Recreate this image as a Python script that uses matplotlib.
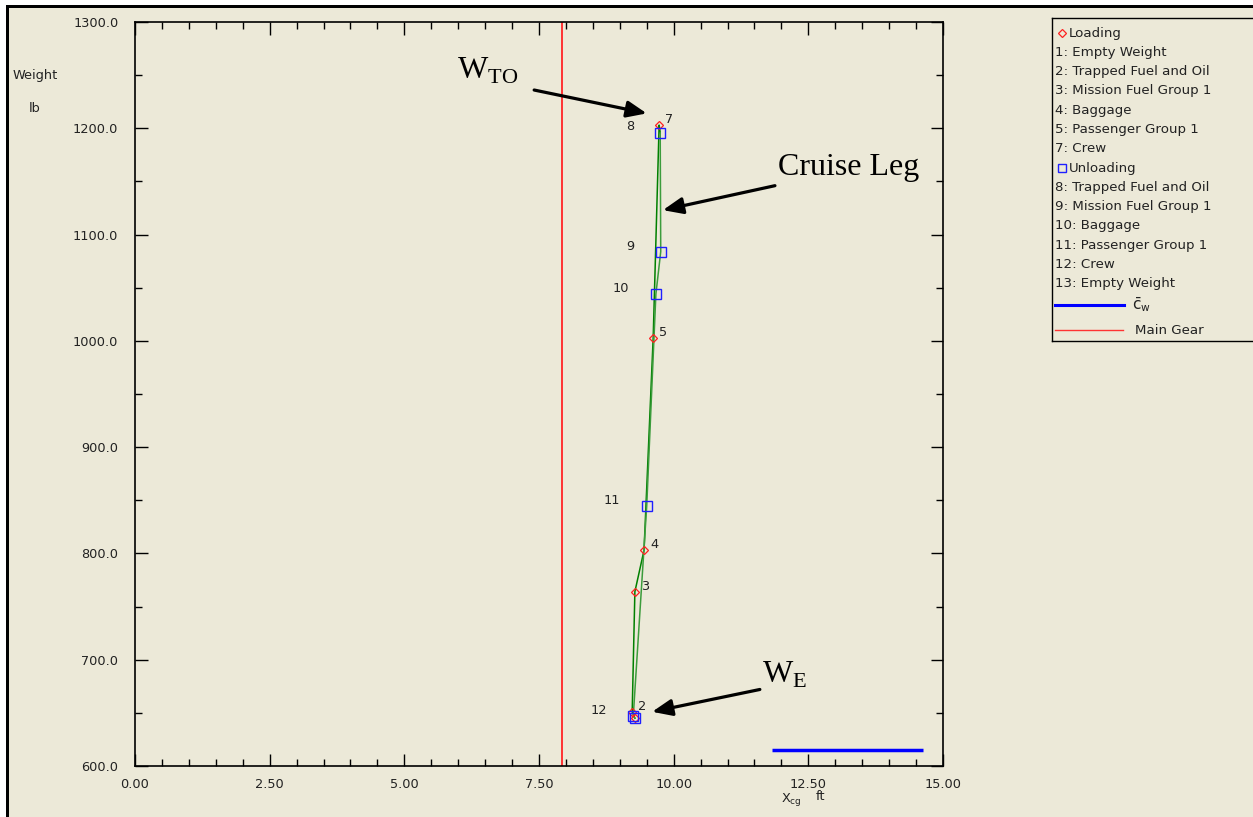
import matplotlib
matplotlib.use('Agg')
import matplotlib.pyplot as plt
from matplotlib.ticker import MultipleLocator, FormatStrFormatter
from matplotlib.patches import Rectangle

# loading / unloading cg points (Xcg ft, weight lb)
load_x = [9.28, 9.23, 9.28, 9.45, 9.62, 9.73]
load_w = [645, 651, 764, 803, 1003, 1203]
load_lbl = ['', '2', '3', '4', '5', '7']

unload_x = [9.75, 9.76, 9.67, 9.50, 9.25, 9.28]
unload_w = [1196, 1084, 1044, 845, 647, 645]
unload_lbl = ['8', '9', '10', '11', '12', '']

main_gear_x = 7.93
cw_x = [11.83, 14.63]
cw_w = [615, 615]

legend_items = ['1: Empty Weight', '2: Trapped Fuel and Oil', '3: Mission Fuel Group 1',
                '4: Baggage', '5: Passenger Group 1', '7: Crew']
legend_items2 = ['8: Trapped Fuel and Oil', '9: Mission Fuel Group 1', '10: Baggage',
                 '11: Passenger Group 1', '12: Crew', '13: Empty Weight']

bg = '#ECE9D8'
txt = '#222222'
W, H = 1253, 817

fig = plt.figure(figsize=(12.53, 8.17), dpi=100, facecolor=bg)
ax = fig.add_axes([135 / W, 1 - 766 / H, 808 / W, 744 / H], facecolor=bg)

ax.axvline(main_gear_x, color='#ff3333', lw=1.4)
ax.plot(cw_x, cw_w, color='#0000ff', lw=2.5, solid_capstyle='butt')

# paths
ax.plot(load_x + [unload_x[0]], load_w + [unload_w[0]], color='#008000', lw=1.1)
ax.plot(unload_x, unload_w, color='#3c9c3c', lw=1.1)

ax.plot(load_x, load_w, ls='none', marker='D', ms=4.5, mfc='none', mec='#ff2020', mew=0.9)
ax.plot(unload_x, unload_w, ls='none', marker='s', ms=6.5, mfc='none', mec='#1f1fff', mew=1.0)

for x, w, s in zip(load_x, load_w, load_lbl):
    if s:
        ax.annotate(s, (x, w), xytext=(4.5, 4), textcoords='offset points',
                    fontsize=9.3, color=txt, ha='left', va='center')
for x, w, s in zip(unload_x, unload_w, unload_lbl):
    if s:
        ax.annotate(s, (x, w), xytext=(-19, 4), textcoords='offset points',
                    fontsize=9.3, color=txt, ha='right', va='center')

# callouts
serif = 'Liberation Serif'
arrow = dict(arrowstyle='-|>,head_length=1.2,head_width=0.5', color='black', lw=2.3,
             shrinkA=0, shrinkB=0)
ax.annotate('', xy=(9.50, 1214), xytext=(7.41, 1236), arrowprops=arrow)
ax.annotate('', xy=(9.80, 1123), xytext=(11.88, 1146), arrowprops=arrow)
ax.annotate('', xy=(9.60, 651), xytext=(11.60, 672), arrowprops=arrow)
ax.text(6.55, 1254, r'W$_\mathregular{TO}$', family=serif, fontsize=23, ha='center', va='center')
ax.text(13.24, 1163, 'Cruise Leg', family=serif, fontsize=23, ha='center', va='center')
ax.text(12.05, 686, r'W$_\mathregular{E}$', family=serif, fontsize=23, ha='center', va='center')

ax.set_xlim(0, 15)
ax.set_ylim(600, 1300)
ax.xaxis.set_major_locator(MultipleLocator(2.5))
ax.xaxis.set_minor_locator(MultipleLocator(0.5))
ax.yaxis.set_major_locator(MultipleLocator(100))
ax.yaxis.set_minor_locator(MultipleLocator(50))
ax.xaxis.set_major_formatter(FormatStrFormatter('%.2f'))
ax.yaxis.set_major_formatter(FormatStrFormatter('%.1f'))
ax.tick_params(which='both', direction='in', top=True, right=True, color='black',
               labelsize=9.3, labelcolor=txt)
ax.tick_params(which='major', length=9, width=1)
ax.tick_params(which='minor', length=5, width=1)
ax.tick_params(axis='y', pad=12)
ax.tick_params(axis='x', pad=9)
for sp in ax.spines.values():
    sp.set_linewidth(1.2)

fig.text(13 / W, 1 - 76 / H, 'Weight', fontsize=9.3, color=txt, ha='left', va='center')
fig.text(29 / W, 1 - 108 / H, 'lb', fontsize=9.3, color=txt, ha='left', va='center')
fig.text(781 / W, 1 - 799 / H, r'X$_\mathregular{cg}$', fontsize=9.3, color=txt, ha='left', va='center')
fig.text(816 / W, 1 - 797 / H, 'ft', fontsize=9.3, color=txt, ha='left', va='center')

# legend box
lg = fig.add_axes([1052 / W, 1 - 341 / H, 201 / W, 323 / H], facecolor=bg)
lg.set_xlim(1052, 1253)
lg.set_ylim(341, 18)
lg.set_xticks([])
lg.set_yticks([])
for sp in lg.spines.values():
    sp.set_linewidth(1.0)
lg.spines['right'].set_visible(False)

fs = 9.6
y0, dy = 33, 19.3
lg.plot([1062], [y0], marker='D', ms=4, mfc='none', mec='#ff2020', mew=0.9)
lg.text(1069, y0, 'Loading', fontsize=fs, color=txt, va='center')
for i, s in enumerate(legend_items):
    lg.text(1055, y0 + dy * (i + 1), s, fontsize=fs, color=txt, va='center')
yu = y0 + dy * 7
lg.plot([1062], [yu], marker='s', ms=5.5, mfc='none', mec='#1f1fff', mew=1.0)
lg.text(1069, yu, 'Unloading', fontsize=fs, color=txt, va='center')
for i, s in enumerate(legend_items2):
    lg.text(1055, yu + dy * (i + 1), s, fontsize=fs, color=txt, va='center')
lg.plot([1055, 1124], [305, 305], color='#0000ff', lw=2.2)
lg.text(1132, 305, r'$\bar{\mathregular{c}}_\mathregular{w}$', fontsize=11, color=txt, va='center')
lg.plot([1055, 1123], [330, 330], color='#ff3333', lw=1.0)
lg.text(1135, 330, 'Main Gear', fontsize=fs, color=txt, va='center')

# screenshot frame
fig.patches.append(Rectangle((0, 1 - 5 / H), 1, 5 / H, transform=fig.transFigure,
                             facecolor='white', edgecolor='none'))
fig.patches.append(Rectangle((0, 0), 6 / W, 1, transform=fig.transFigure,
                             facecolor='white', edgecolor='none'))
fig.patches.append(Rectangle((6 / W, 1 - 8 / H), 1, 3 / H, transform=fig.transFigure,
                             facecolor='black', edgecolor='none'))
fig.patches.append(Rectangle((6 / W, 0), 3 / W, 1 - 5 / H, transform=fig.transFigure,
                             facecolor='black', edgecolor='none'))

plt.savefig('out.png', dpi=100, facecolor=bg)
plt.close()
